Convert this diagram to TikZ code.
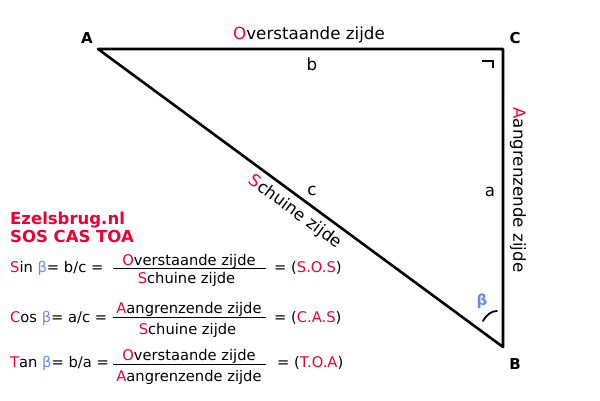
\documentclass[tikz,border=0pt]{standalone}
\usepackage{fontspec}
\setmainfont{DejaVu Sans}
\definecolor{ezred}{RGB}{240,0,50}
\definecolor{ezblue}{RGB}{100,140,240}
\begin{document}
\begin{tikzpicture}[x=1pt,y=-1pt,
  lbl/.style={inner sep=0pt, font=\fontsize{16.7}{20}\selectfont},
  vlbl/.style={inner sep=0pt, font=\bfseries\fontsize{15}{18}\selectfont},
  eq/.style={inner sep=0pt, font=\fontsize{14.7}{18}\selectfont},
  title/.style={inner sep=0pt, anchor=base west, text=ezred, font=\bfseries\fontsize{16.5}{20}\selectfont},
  bar/.style={line width=1pt},
  tri/.style={line width=2.6pt, line join=round},
  mark/.style={line width=1.8pt}]
\useasboundingbox[fill=white] (0,0) rectangle (600,400);
% triangle
\coordinate (A) at (98,49);
\coordinate (C) at (503,49);
\coordinate (B) at (503,347);
\draw[tri] (A) -- (C) -- (B) -- cycle;
% right angle mark
\coordinate (r1) at (482,61);
\coordinate (r2) at (493,61);
\coordinate (r3) at (493,68);
\draw[line width=1.6pt] (r1) -- (r2) -- (r3);
% angle arc at B
\coordinate (k1) at (483,321);
\coordinate (k2) at (497,311);
\draw[line width=1.8pt, line cap=round] (k1) .. controls (487,314) and (492,311) .. (k2);
% vertex labels
\node[vlbl, anchor=base] (lA) at (87,43.3) {A};
\node[vlbl, anchor=base] (lC) at (515,43.3) {C};
\node[vlbl, anchor=base] (lB) at (515,369.3) {B};
% side labels
\node[lbl, anchor=base] (top) at (309,39) {{\color{ezred}O}verstaande zijde};
\node[lbl, anchor=base] (lb) at (312,70) {b};
\node[lbl, anchor=base] (la) at (490,196.7) {a};
\node[lbl, anchor=base] (lc) at (312,195) {c};
\node[lbl, rotate=-90] (right) at (518,190) {{\color{ezred}A}angrenzende zijde};
\node[lbl, rotate=-36.3] (hyp) at (295,212) {{\color{ezred}S}chuine zijde};
\node[lbl, anchor=base, text=ezblue, font=\bfseries\fontsize{15}{18}\selectfont] (beta) at (482,305) {β};
% titles
\node[title] (t1) at (10,224) {Ezelsbrug.nl};
\node[title] (t2) at (10,242.7) {SOS CAS TOA};
% Sin
\node[eq, anchor=base west] (s1) at (10,272.7) {{\color{ezred}S}in {\color{ezblue}β}= b/c =};
\node[eq, anchor=base] (s1n) at (189,265) {{\color{ezred}O}verstaande zijde};
\node[eq, anchor=base] (s1d) at (186.5,283.3) {{\color{ezred}S}chuine zijde};
\draw[bar] (113,268.3) -- (266,268.3);
\node[eq, anchor=base west] (s1r) at (274,272.7) {= ({\color{ezred}S.O.S})};
% Cos
\node[eq, anchor=base west] (c1) at (10,322.3) {{\color{ezred}C}os {\color{ezblue}β}= a/c =};
\node[eq, anchor=base] (c1n) at (189,313.3) {{\color{ezred}A}angrenzende zijde};
\node[eq, anchor=base] (c1d) at (187.5,334) {{\color{ezred}S}chuine zijde};
\draw[bar] (113,317.3) -- (266,317.3);
\node[eq, anchor=base west] (c1r) at (274,322.3) {= ({\color{ezred}C.A.S})};
% Tan
\node[eq, anchor=base west] (n1) at (10,367.7) {{\color{ezred}T}an {\color{ezblue}β}= b/a =};
\node[eq, anchor=base] (n1n) at (189,360.7) {{\color{ezred}O}verstaande zijde};
\node[eq, anchor=base] (n1d) at (189,381.7) {{\color{ezred}A}angrenzende zijde};
\draw[bar] (113,364) -- (266,364);
\node[eq, anchor=base west] (n1r) at (277,367.7) {= ({\color{ezred}T.O.A})};
\end{tikzpicture}
\end{document}
